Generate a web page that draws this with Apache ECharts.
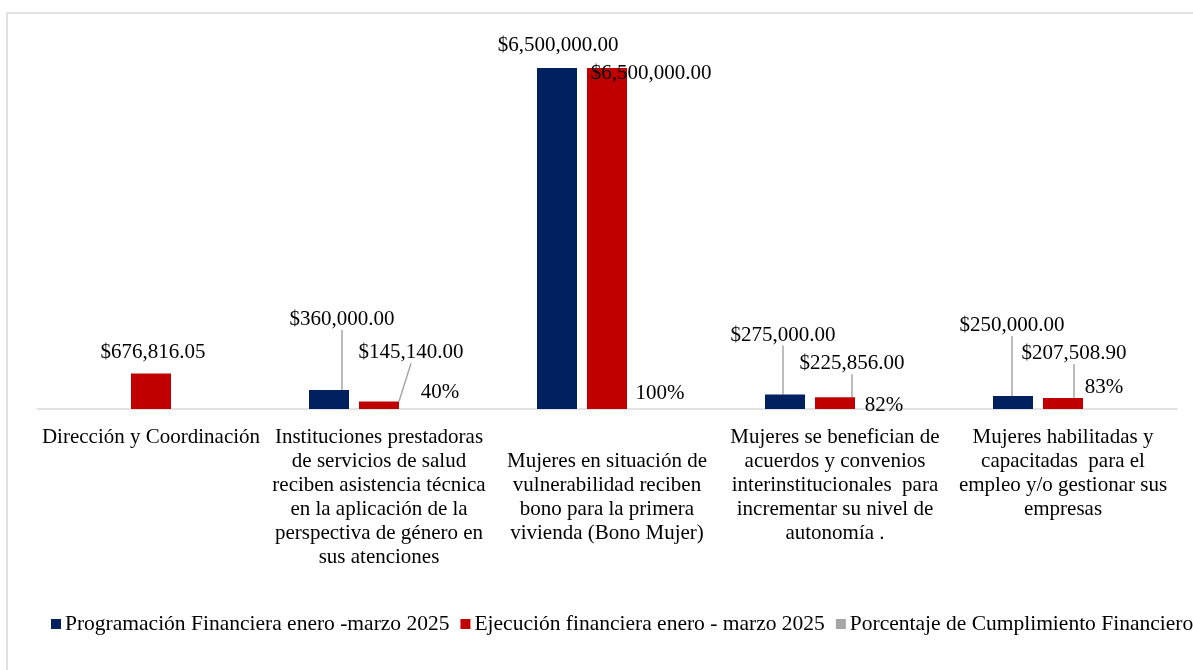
<!DOCTYPE html>
<html><head><meta charset="utf-8">
<script src="https://cdn.jsdelivr.net/npm/echarts@6/dist/echarts.min.js"></script>
<style>html,body{margin:0;padding:0;background:#fff}#c{width:1193px;height:670px}</style>
</head><body><div id="c"></div>
<script>
const categories = [
  "Dirección y Coordinación",
  "Instituciones prestadoras\nde servicios de salud\nreciben asistencia técnica\nen la aplicación de la\nperspectiva de género en\nsus atenciones",
  "\nMujeres en situación de\nvulnerabilidad reciben\nbono para la primera\nvivienda (Bono Mujer)",
  "Mujeres se benefician de\nacuerdos y convenios\ninterinstitucionales  para\nincrementar su nivel de\nautonomía .",
  "Mujeres habilitadas y\ncapacitadas  para el\nempleo y/o gestionar sus\nempresas"
];
const seriesNames = [
  "Programación Financiera enero -marzo 2025",
  "Ejecución financiera enero - marzo 2025",
  "Porcentaje de Cumplimiento Financiero"
];
const programacion = [null, 360000, 6500000, 275000, 250000];
const ejecucion = [676816.05, 145140, 6500000, 225856, 207508.90];
const cumplimiento = [null, 0.40, 1.00, 0.82, 0.83];

// label offsets (dx, dy) relative to default top position, per series / category
const labelOffsets = [
  [[0,0],[13,-55],[1,-7],[-2,-44],[-1,-55]],
  [[2,-6],[32,-33],[44,21],[17,-18],[11,-29]],
  [[0,0],[11,-1],[3,0],[-1,12],[-9,-6]]
];
const showLine = [
  [false,true,false,true,true],
  [false,true,false,true,true],
  [false,false,false,false,false]
];

const FONT = "Liberation Serif";
const colors = ["#002060", "#C00000", "#A5A5A5"];

function money(v){
  return "$" + Number(v).toLocaleString("en-US",{minimumFractionDigits:2, maximumFractionDigits:2});
}

const chart = echarts.init(document.getElementById('c'));
function mkData(arr, si){
  return arr.map((v,i)=>({value:v, labelLine:{show:showLine[si][i]}}));
}
const common = {
  type:'bar', barWidth:40, barGap:'25%',
  label:{show:true, position:'top', distance:5, fontFamily:FONT, fontSize:21, color:'#000'},
  labelLine:{show:true, lineStyle:{color:'#A6A6A6', width:1.5}, smooth:false},
};
chart.setOption({
  animation:false,
  color:colors,
  graphic:[{type:'rect', shape:{x:7,y:13,width:1250,height:720}, style:{fill:null, stroke:'#D9D9D9', lineWidth:1.5}, silent:true}],
  grid:{left:37, right:16, top:68, bottom:261},
  legend:{
    left:51, top:613, width:1300, padding:0, icon:'rect', itemWidth:10, itemHeight:10, itemGap:11,
    textStyle:{fontFamily:FONT, fontSize:21.5, color:'#000', padding:[0,0,0,-1]},
    data:seriesNames
  },
  xAxis:{
    type:'category', data:categories,
    axisLine:{lineStyle:{color:'#D9D9D9', width:1.5}},
    axisTick:{show:false},
    axisLabel:{interval:0, fontFamily:FONT, fontSize:21, color:'#000', lineHeight:24, margin:16, align:'center'}
  },
  yAxis:{type:'value', min:0, max:6500000, show:false, splitLine:{show:false}},
  series:[
    Object.assign({}, common, {name:seriesNames[0], data:mkData(programacion,0),
      label:Object.assign({}, common.label, {formatter:p=>money(p.value)}),
      labelLayout:p=>({dx:labelOffsets[0][p.dataIndex][0], dy:labelOffsets[0][p.dataIndex][1]})}),
    Object.assign({}, common, {name:seriesNames[1], data:mkData(ejecucion,1),
      label:Object.assign({}, common.label, {formatter:p=>money(p.value)}),
      labelLayout:p=>({dx:labelOffsets[1][p.dataIndex][0], dy:labelOffsets[1][p.dataIndex][1]})}),
    Object.assign({}, common, {name:seriesNames[2], data:mkData(cumplimiento,2),
      label:Object.assign({}, common.label, {formatter:p=>Math.round(p.value*100)+'%'}),
      labelLayout:p=>({dx:labelOffsets[2][p.dataIndex][0], dy:labelOffsets[2][p.dataIndex][1]})})
  ]
});
</script></body></html>
